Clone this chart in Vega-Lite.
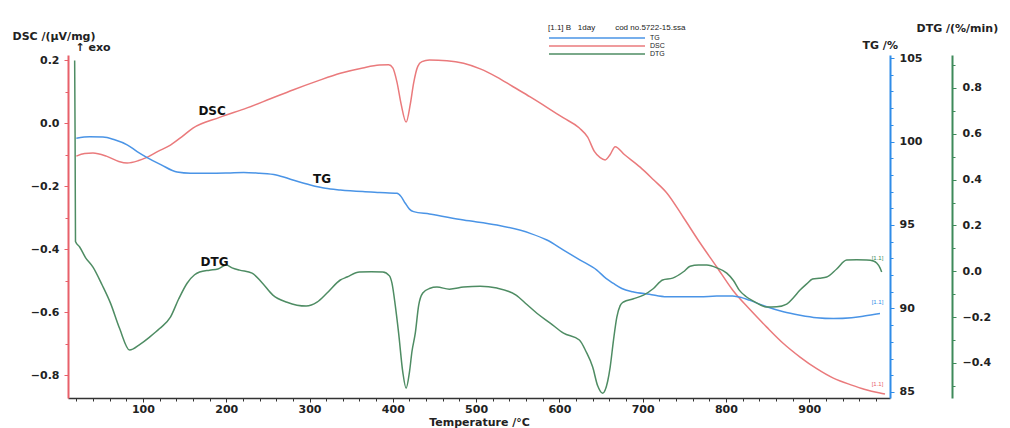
{
  "$schema": "https://vega.github.io/schema/vega-lite/v6.json",
  "width": 822,
  "height": 343,
  "autosize": {"type": "none"},
  "padding": {"left": 68, "top": 55, "right": 120, "bottom": 30},
  "background": "white",
  "config": {
    "view": {"stroke": null},
    "font": "DejaVu Sans",
    "axis": {
      "grid": false,
      "labelFont": "DejaVu Sans",
      "labelFontWeight": "bold",
      "labelFontSize": 11,
      "labelColor": "#222",
      "titleFont": "DejaVu Sans",
      "titleFontWeight": "bold",
      "titleFontSize": 11,
      "titleColor": "#222",
      "labelOverlap": false,
      "labelFlush": false
    }
  },
  "datasets": {
    "dsc": [
      {"T": 20, "v": -0.105}, {"T": 30, "v": -0.097}, {"T": 40, "v": -0.095}, {"T": 56, "v": -0.105},
      {"T": 71, "v": -0.122}, {"T": 81, "v": -0.127}, {"T": 94, "v": -0.12}, {"T": 104, "v": -0.11},
      {"T": 118, "v": -0.09}, {"T": 133, "v": -0.07}, {"T": 147, "v": -0.043}, {"T": 160, "v": -0.016},
      {"T": 192, "v": 0.018}, {"T": 225, "v": 0.048}, {"T": 253, "v": 0.077}, {"T": 280, "v": 0.105},
      {"T": 309, "v": 0.133}, {"T": 337, "v": 0.158}, {"T": 364, "v": 0.175}, {"T": 384, "v": 0.184},
      {"T": 395, "v": 0.185}, {"T": 400, "v": 0.175}, {"T": 405, "v": 0.13}, {"T": 410, "v": 0.06},
      {"T": 416, "v": 0.003}, {"T": 421, "v": 0.06}, {"T": 425, "v": 0.127}, {"T": 430, "v": 0.18},
      {"T": 435, "v": 0.195}, {"T": 444, "v": 0.2}, {"T": 465, "v": 0.198}, {"T": 485, "v": 0.19},
      {"T": 505, "v": 0.172}, {"T": 525, "v": 0.146}, {"T": 544, "v": 0.116}, {"T": 565, "v": 0.083},
      {"T": 585, "v": 0.05}, {"T": 605, "v": 0.016}, {"T": 624, "v": -0.016}, {"T": 634, "v": -0.045},
      {"T": 642, "v": -0.09}, {"T": 649, "v": -0.11}, {"T": 655, "v": -0.117}, {"T": 661, "v": -0.1},
      {"T": 667, "v": -0.075}, {"T": 678, "v": -0.1}, {"T": 697, "v": -0.14}, {"T": 713, "v": -0.18},
      {"T": 729, "v": -0.222}, {"T": 749, "v": -0.3}, {"T": 769, "v": -0.381}, {"T": 789, "v": -0.457},
      {"T": 808, "v": -0.53}, {"T": 828, "v": -0.59}, {"T": 849, "v": -0.648}, {"T": 869, "v": -0.7},
      {"T": 889, "v": -0.743}, {"T": 909, "v": -0.78}, {"T": 929, "v": -0.81}, {"T": 951, "v": -0.832},
      {"T": 966, "v": -0.845}, {"T": 985, "v": -0.857}, {"T": 991, "v": -0.86}
    ],
    "tg": [
      {"T": 20, "v": 100.2}, {"T": 36, "v": 100.28}, {"T": 52, "v": 100.27}, {"T": 66, "v": 100.1},
      {"T": 81, "v": 99.8}, {"T": 93, "v": 99.4}, {"T": 104, "v": 99.07}, {"T": 122, "v": 98.6},
      {"T": 141, "v": 98.17}, {"T": 157, "v": 98.1}, {"T": 180, "v": 98.1}, {"T": 202, "v": 98.12},
      {"T": 221, "v": 98.15}, {"T": 240, "v": 98.1}, {"T": 260, "v": 98.0}, {"T": 280, "v": 97.7},
      {"T": 301, "v": 97.4}, {"T": 319, "v": 97.2}, {"T": 337, "v": 97.1}, {"T": 364, "v": 97.0},
      {"T": 384, "v": 96.95}, {"T": 405, "v": 96.9}, {"T": 410, "v": 96.7}, {"T": 415, "v": 96.3},
      {"T": 420, "v": 95.95}, {"T": 425, "v": 95.8}, {"T": 444, "v": 95.66}, {"T": 485, "v": 95.3},
      {"T": 525, "v": 95.0}, {"T": 565, "v": 94.5}, {"T": 585, "v": 94.1}, {"T": 605, "v": 93.5},
      {"T": 625, "v": 92.9}, {"T": 645, "v": 92.3}, {"T": 656, "v": 91.8}, {"T": 665, "v": 91.5},
      {"T": 675, "v": 91.2}, {"T": 688, "v": 91.0}, {"T": 708, "v": 90.85}, {"T": 729, "v": 90.7},
      {"T": 749, "v": 90.7}, {"T": 769, "v": 90.7}, {"T": 789, "v": 90.75}, {"T": 808, "v": 90.75},
      {"T": 819, "v": 90.65}, {"T": 828, "v": 90.5}, {"T": 849, "v": 90.1}, {"T": 869, "v": 89.8},
      {"T": 889, "v": 89.6}, {"T": 909, "v": 89.45}, {"T": 929, "v": 89.4}, {"T": 951, "v": 89.45},
      {"T": 966, "v": 89.55}, {"T": 985, "v": 89.7}
    ],
    "dtg": [
      {"T": 18, "v": 0.92}, {"T": 18.5, "v": 0.6}, {"T": 19, "v": 0.13}, {"T": 24, "v": 0.106},
      {"T": 31, "v": 0.06}, {"T": 40, "v": 0.018}, {"T": 51, "v": -0.06}, {"T": 61, "v": -0.139},
      {"T": 72, "v": -0.25}, {"T": 84, "v": -0.344}, {"T": 96, "v": -0.32}, {"T": 108, "v": -0.287},
      {"T": 120, "v": -0.25}, {"T": 133, "v": -0.2}, {"T": 143, "v": -0.12}, {"T": 153, "v": -0.052},
      {"T": 162, "v": -0.015}, {"T": 168, "v": -0.003}, {"T": 180, "v": 0.005}, {"T": 190, "v": 0.01},
      {"T": 200, "v": 0.027}, {"T": 207, "v": 0.015}, {"T": 216, "v": 0.005}, {"T": 231, "v": -0.008},
      {"T": 243, "v": -0.05}, {"T": 256, "v": -0.104}, {"T": 273, "v": -0.135}, {"T": 296, "v": -0.152},
      {"T": 309, "v": -0.135}, {"T": 321, "v": -0.095}, {"T": 337, "v": -0.038}, {"T": 345, "v": -0.025},
      {"T": 360, "v": -0.003}, {"T": 374, "v": -0.002}, {"T": 388, "v": -0.003}, {"T": 396, "v": -0.02},
      {"T": 399, "v": -0.052}, {"T": 403, "v": -0.15}, {"T": 407, "v": -0.27}, {"T": 412, "v": -0.44},
      {"T": 416, "v": -0.51}, {"T": 420, "v": -0.44}, {"T": 423, "v": -0.35}, {"T": 427, "v": -0.27},
      {"T": 431, "v": -0.15}, {"T": 436, "v": -0.095}, {"T": 444, "v": -0.075}, {"T": 453, "v": -0.069},
      {"T": 468, "v": -0.078}, {"T": 485, "v": -0.069}, {"T": 505, "v": -0.065}, {"T": 525, "v": -0.073},
      {"T": 548, "v": -0.104}, {"T": 561, "v": -0.145}, {"T": 573, "v": -0.183}, {"T": 589, "v": -0.226},
      {"T": 605, "v": -0.27}, {"T": 624, "v": -0.3}, {"T": 632, "v": -0.35}, {"T": 640, "v": -0.418},
      {"T": 646, "v": -0.5}, {"T": 652, "v": -0.532}, {"T": 658, "v": -0.48}, {"T": 661, "v": -0.418},
      {"T": 665, "v": -0.3}, {"T": 669, "v": -0.2}, {"T": 673, "v": -0.15}, {"T": 677, "v": -0.134},
      {"T": 689, "v": -0.12}, {"T": 701, "v": -0.104}, {"T": 713, "v": -0.075}, {"T": 724, "v": -0.038},
      {"T": 736, "v": -0.03}, {"T": 749, "v": -0.002}, {"T": 757, "v": 0.022}, {"T": 767, "v": 0.028},
      {"T": 777, "v": 0.027}, {"T": 789, "v": 0.015}, {"T": 801, "v": -0.008}, {"T": 809, "v": -0.04},
      {"T": 816, "v": -0.082}, {"T": 824, "v": -0.11}, {"T": 833, "v": -0.13}, {"T": 849, "v": -0.156},
      {"T": 861, "v": -0.155}, {"T": 873, "v": -0.143}, {"T": 881, "v": -0.115}, {"T": 889, "v": -0.082},
      {"T": 897, "v": -0.055}, {"T": 904, "v": -0.034}, {"T": 912, "v": -0.03}, {"T": 921, "v": -0.025},
      {"T": 933, "v": 0.01}, {"T": 945, "v": 0.049}, {"T": 957, "v": 0.05}, {"T": 969, "v": 0.049},
      {"T": 977, "v": 0.045}, {"T": 981, "v": 0.036}, {"T": 985, "v": 0.015}, {"T": 987, "v": -0.003}
    ]
  },
  "encoding": {
    "x": {
      "field": "T",
      "type": "quantitative",
      "scale": {"domain": [10, 997], "nice": false, "zero": false},
      "axis": {
        "values": [20, 40, 60, 80, 100, 120, 140, 160, 180, 200, 220, 240, 260, 280, 300, 320, 340, 360, 380, 400, 420, 440, 460, 480, 500, 520, 540, 560, 580, 600, 620, 640, 660, 680, 700, 720, 740, 760, 780, 800, 820, 840, 860, 880, 900, 920, 940, 960, 980],
        "labelExpr": "datum.value % 100 == 0 ? datum.value : ''",
        "tickSize": {"condition": {"test": "datum.value % 100 == 0", "value": 4}, "value": 3},
        "domainColor": "#333",
        "domainWidth": 1.5,
        "tickColor": "#333",
        "labelPadding": 1,
        "title": "Temperature /°C",
        "titleY": 24,
        "titleBaseline": "middle"
      }
    }
  },
  "resolve": {"scale": {"y": "independent"}},
  "layer": [
    {
      "encoding": {
        "y": {
          "field": "v",
          "type": "quantitative",
          "scale": {"domain": [-0.873, 0.216], "nice": false, "zero": false},
          "axis": {
            "orient": "left",
            "values": [-0.8, -0.7, -0.6, -0.5, -0.4, -0.3, -0.2, -0.1, 0, 0.1, 0.2],
            "labelExpr": "round(datum.value*10) % 2 == 0 ? format(datum.value, '.1f') : ''",
            "tickSize": {"condition": {"test": "round(datum.value*10) % 2 == 0", "value": 4}, "value": 3},
            "domainColor": "#e8606a",
            "domainWidth": 2,
            "tickColor": "#e8606a",
            "labelPadding": 5,
            "title": "DSC /(µV/mg)",
            "titleAngle": 0,
            "titleAlign": "left",
            "titleBaseline": "middle",
            "titleX": -56,
            "titleY": -19
          }
        }
      },
      "layer": [
        {
          "data": {"name": "dsc"},
          "mark": {"type": "line", "strokeWidth": 1.5, "interpolate": "monotone"},
          "encoding": {
            "color": {
              "datum": "DSC",
              "type": "nominal",
              "scale": {"domain": ["TG", "DSC", "DTG"], "range": ["#4a94e6", "#ea7a7c", "#4e8c63"]},
              "legend": {
                "orient": "none",
                "legendX": 480,
                "legendY": -31,
                "padding": 0,
                "title": "[1.1] B\u00a0\u00a0\u00a01day\u00a0\u00a0\u00a0\u00a0\u00a0\u00a0\u00a0\u00a0\u00a0cod no.5722-15.ssa",
                "titleFont": "Liberation Sans",
                "titleFontSize": 8,
                "titleFontWeight": "normal",
                "titleColor": "#222",
                "titlePadding": 1,
                "labelFont": "Liberation Sans",
                "labelFontSize": 7,
                "labelColor": "#222",
                "labelOffset": 92,
                "symbolType": "M-1,0H23",
                "symbolSize": 64,
                "symbolStrokeWidth": 1.5,
                "rowPadding": 0
              }
            }
          }
        },
        {
          "data": {"values": [{"T": 183, "v": 0.038, "label": "DSC"}]},
          "mark": {"type": "text", "font": "DejaVu Sans", "fontWeight": "bold", "fontSize": 12, "color": "#111"},
          "encoding": {"text": {"field": "label"}}
        },
        {
          "data": {"values": [{"T": 40, "v": 0.238, "label": "↑ exo"}]},
          "mark": {"type": "text", "font": "DejaVu Sans", "fontWeight": "bold", "fontSize": 11, "color": "#222"},
          "encoding": {"text": {"field": "label"}}
        },
        {
          "data": {"values": [{"T": 982, "v": -0.83, "label": "[1.1]"}]},
          "mark": {"type": "text", "font": "Liberation Sans", "fontSize": 6, "color": "#e8606a"},
          "encoding": {"text": {"field": "label"}}
        }
      ]
    },
    {
      "encoding": {
        "y": {
          "field": "v",
          "type": "quantitative",
          "scale": {"domain": [84.64, 105.18], "nice": false, "zero": false},
          "axis": {
            "orient": "right",
            "values": [85, 86, 87, 88, 89, 90, 91, 92, 93, 94, 95, 96, 97, 98, 99, 100, 101, 102, 103, 104, 105],
            "labelExpr": "datum.value % 5 == 0 ? datum.value : ''",
            "tickSize": {"condition": {"test": "datum.value % 5 == 0", "value": 4}, "value": 3},
            "domainColor": "#2f8ce8",
            "domainWidth": 2,
            "tickColor": "#2f8ce8",
            "labelPadding": 5,
            "title": "TG /%",
            "titleAngle": 0,
            "titleAlign": "left",
            "titleBaseline": "middle",
            "titleX": -28,
            "titleY": -10
          }
        }
      },
      "layer": [
        {
          "data": {"name": "tg"},
          "mark": {"type": "line", "strokeWidth": 1.5, "interpolate": "monotone"},
          "encoding": {"color": {"datum": "TG", "type": "nominal"}}
        },
        {
          "data": {"values": [{"T": 315, "v": 97.75, "label": "TG"}]},
          "mark": {"type": "text", "font": "DejaVu Sans", "fontWeight": "bold", "fontSize": 12, "color": "#111"},
          "encoding": {"text": {"field": "label"}}
        },
        {
          "data": {"values": [{"T": 982, "v": 90.4, "label": "[1.1]"}]},
          "mark": {"type": "text", "font": "Liberation Sans", "fontSize": 6, "color": "#2f8ce8"},
          "encoding": {"text": {"field": "label"}}
        }
      ]
    },
    {
      "encoding": {
        "y": {
          "field": "v",
          "type": "quantitative",
          "scale": {"domain": [-0.553, 0.944], "nice": false, "zero": false},
          "axis": {
            "orient": "right",
            "offset": 62,
            "values": [-0.5, -0.4, -0.3, -0.2, -0.1, 0, 0.1, 0.2, 0.3, 0.4, 0.5, 0.6, 0.7, 0.8, 0.9],
            "labelExpr": "round(datum.value*10) % 2 == 0 ? format(datum.value, '.1f') : ''",
            "tickSize": {"condition": {"test": "round(datum.value*10) % 2 == 0", "value": 4}, "value": 3},
            "domainColor": "#3e8a5a",
            "domainWidth": 2,
            "tickColor": "#3e8a5a",
            "labelPadding": 6,
            "title": "DTG /(%/min)",
            "titleAngle": 0,
            "titleAlign": "left",
            "titleBaseline": "middle",
            "titleX": -36,
            "titleY": -27
          }
        }
      },
      "layer": [
        {
          "data": {"name": "dtg"},
          "mark": {"type": "line", "strokeWidth": 1.5, "interpolate": "monotone"},
          "encoding": {"color": {"datum": "DTG", "type": "nominal"}}
        },
        {
          "data": {"values": [{"T": 186, "v": 0.04, "label": "DTG"}]},
          "mark": {"type": "text", "font": "DejaVu Sans", "fontWeight": "bold", "fontSize": 12, "color": "#111"},
          "encoding": {"text": {"field": "label"}}
        },
        {
          "data": {"values": [{"T": 982, "v": 0.06, "label": "[1.1]"}]},
          "mark": {"type": "text", "font": "Liberation Sans", "fontSize": 6, "color": "#3e8a5a"},
          "encoding": {"text": {"field": "label"}}
        }
      ]
    }
  ]
}
